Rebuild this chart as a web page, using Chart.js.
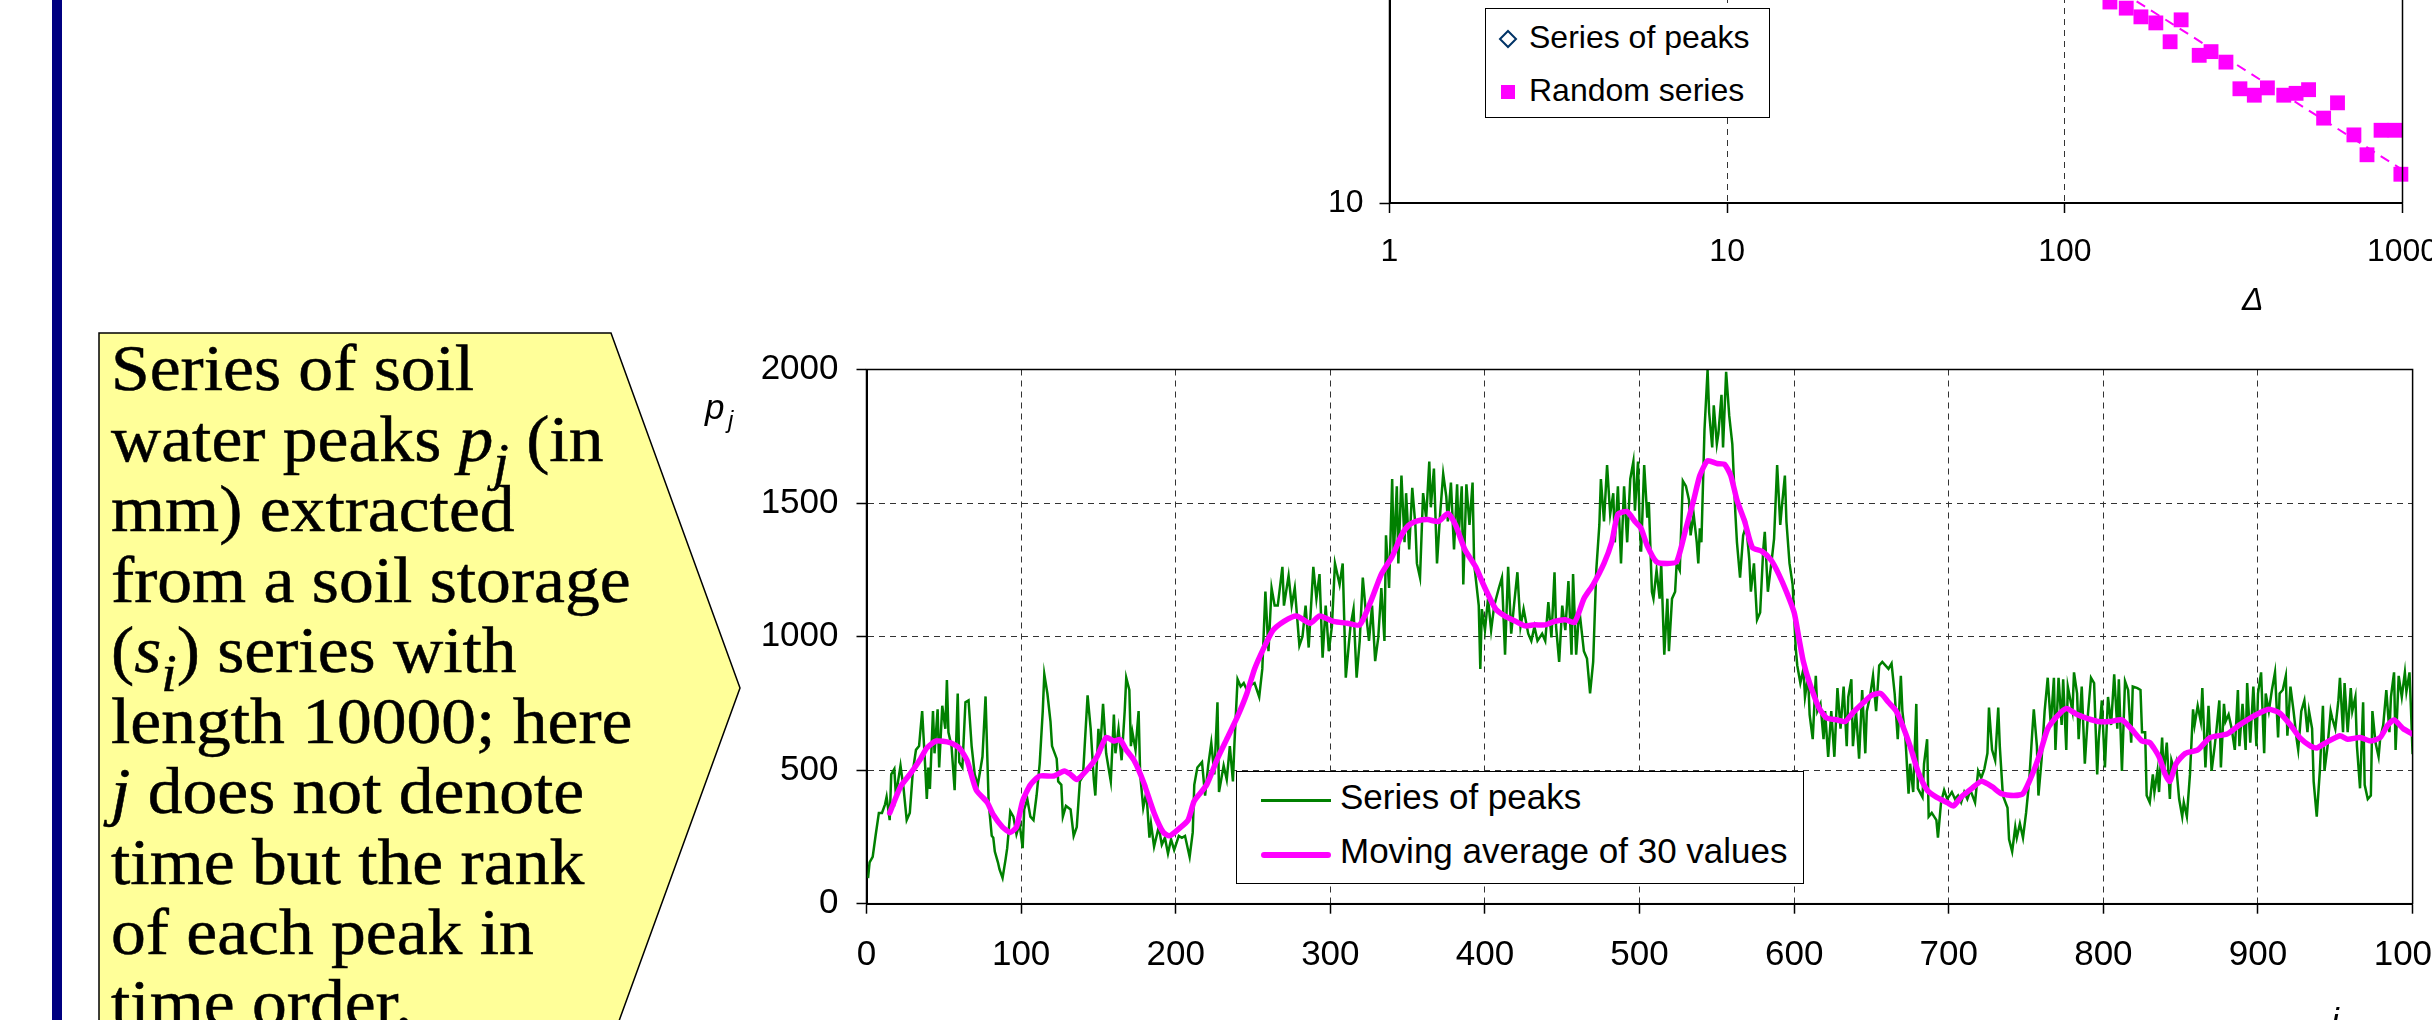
<!DOCTYPE html>
<html><head><meta charset="utf-8">
<script src="https://cdn.jsdelivr.net/npm/chart.js@4.4.1/dist/chart.umd.min.js"></script>
<style>
html,body{margin:0;padding:0;background:#fff;}
body{width:2432px;height:1020px;overflow:hidden;position:relative;font-family:'Liberation Sans',Arial,sans-serif;color:#000;}
.abs{position:absolute;}
#bar{left:52px;top:0;width:10px;height:1020px;background:#000080;}
#ctext{left:111px;top:333px;font-family:'Liberation Serif','Times New Roman',serif;font-size:65px;line-height:70.5px;white-space:nowrap;transform:scaleX(1.07);transform-origin:0 0;-webkit-text-stroke:0.5px #000;}
#ctext sub{font-size:0.8em;line-height:0;vertical-align:-0.36em;}
.lg{background:#fff;border:1.5px solid #000;box-sizing:border-box;}
.t35{font-size:35px;line-height:35px;white-space:nowrap;}
.t32{font-size:32px;line-height:32px;white-space:nowrap;}
.it{font-style:italic;}
</style></head>
<body>
<div id="bar" class="abs"></div>
<svg class="abs" style="left:0;top:0" width="2432" height="1020">
  <polygon points="99,333 611,333 740,688 611,1043 99,1043" fill="#FFFF99" stroke="#000" stroke-width="1.5"/>
</svg>
<div id="ctext" class="abs">Series of soil<br>water peaks <i>p<sub>j</sub></i> (in<br>mm) extracted<br>from a soil storage<br>(<i>s<sub>i</sub></i>) series with<br>length 10000; here<br><i>j</i> does not denote<br>time but the rank<br>of each peak in<br>time order.</div>

<div class="abs" style="left:1100px;top:-620px;width:1332px;height:960px;"><canvas id="topChart"></canvas></div>
<div class="abs" style="left:600px;top:340px;width:1832px;height:680px;"><canvas id="mainChart"></canvas></div>

<!-- top chart legend & title -->
<div class="abs lg" style="left:1485px;top:8px;width:285px;height:110px;"></div>
<svg class="abs" style="left:1498px;top:29px" width="20" height="20"><polygon points="10,2 18,10 10,18 2,10" fill="#fff" stroke="#003366" stroke-width="2"/></svg>
<div class="abs t32" style="left:1529px;top:21px;">Series of peaks</div>
<div class="abs" style="left:1501px;top:85px;width:14px;height:14px;background:#FF00FF;"></div>
<div class="abs t32" style="left:1529px;top:74px;">Random series</div>
<div class="abs t32 it" style="left:2242px;top:283px;">Δ</div>

<!-- main chart legend & titles -->
<div class="abs lg" style="left:1236px;top:771px;width:568px;height:113px;"></div>
<div class="abs" style="left:1261px;top:799px;width:70px;height:2.5px;background:#008000;"></div>
<div class="abs t35" style="left:1340px;top:779px;">Series of peaks</div>
<div class="abs" style="left:1261px;top:852px;width:70px;height:6px;background:#FF00FF;border-radius:3px;"></div>
<div class="abs t35" style="left:1340px;top:833px;">Moving average of 30 values</div>
<div class="abs t35 it" style="left:705px;top:389px;">p</div>
<div class="abs it" style="left:728px;top:408px;font-size:24px;line-height:24px;">j</div>
<div class="abs t35 it" style="left:2331px;top:1003px;">j</div>

<script>
// ---------- main chart data ----------
const mainXTicks = [0,100,200,300,400,500,600,700,800,900,1000];
const mainYTicks = [0,500,1000,1500,2000];
// Series of peaks p_j (j, p_j in mm)
const peaks = [
[1,96],[2,155],[4,175],[6,260],[8,340],[10,340],[12,372],[13,400],[15,313],[16,484],[18,504],[19,405],[22,517],[24,431],[26,313],[28,340],[30,497],[32,576],[34,590],[36,721],[38,510],[39,392],[40,510],[41,430],[43,721],[44,563],[46,728],[47,510],[49,741],[51,655],[52,837],[53,642],[55,590],[57,425],[59,787],[60,530],[62,510],[64,754],[66,761],[68,590],[70,484],[72,445],[75,550],[77,776],[79,380],[81,254],[82,247],[83,195],[85,155],[86,129],[88,96],[90,168],[91,208],[92,274],[93,346],[95,326],[97,260],[99,300],[101,208],[102,353],[104,392],[106,326],[108,313],[110,405],[112,523],[114,721],[115,859],[117,787],[119,682],[120,590],[123,543],[124,458],[126,445],[127,326],[129,366],[132,353],[134,254],[136,287],[138,458],[140,478],[143,780],[145,655],[147,465],[148,405],[150,655],[151,563],[153,748],[155,563],[158,458],[160,708],[161,563],[163,655],[165,537],[167,721],[168,846],
[170,800],[171,590],[172,642],[174,576],[176,721],[177,484],[179,359],[181,418],[183,247],[184,300],[186,214],[189,287],[191,221],[193,247],[195,188],[197,241],[199,201],[202,254],[204,247],[206,254],[209,175],[211,267],[212,445],[214,510],[217,530],[219,405],[221,517],[223,602],[225,484],[227,754],[228,418],[231,517],[233,465],[235,590],[237,458],[238,602],[240,840],[242,813],[244,826],[246,800],[249,820],[251,826],[254,774],[256,879],[258,1169],[260,945],[262,1182],[264,1116],[266,1116],[269,1261],[270,1116],[273,1228],[275,1116],[277,1182],[280,966],[282,1000],[284,1116],[286,959],[289,1261],[291,1142],[293,1234],[295,921],[297,1116],[299,945],[301,1037],[303,1274],[306,1195],[308,1274],[310,846],[313,1037],[315,1103],[317,846],[319,984],[321,1221],[323,1090],[325,984],[327,1116],[329,908],
[331,997],[333,1182],[335,984],[336,1379],[338,1182],[340,1590],[341,1300],[343,1563],[344,1274],[346,1603],[348,1353],[349,1537],[351,1326],[353,1557],[355,1418],[356,1274],[358,1221],[360,1537],[362,1445],[364,1655],[365,1484],[367,1629],[369,1274],[371,1458],[373,1609],[375,1524],[376,1431],[378,1577],[380,1326],[382,1570],[383,1379],[385,1563],[386,1195],[388,1570],[390,1418],[392,1577],[393,1274],[396,1116],[397,879],[398,1103],[400,1024],[402,1142],[404,1024],[406,1116],[409,1182],[411,1221],[413,932],[415,1261],[417,1011],[419,1129],[421,1241],[423,1037],[425,1103],[428,1011],[430,984],[432,1037],[434,984],[437,1011],[439,984],[441,1129],[443,997],[445,1241],[446,1037],[448,905],[450,1116],[452,1024],[454,1208],[456,932],[457,1234],[459,932],[461,1103],[464,945],[466,918],[468,787],[470,905],[472,1248],[474,1418],[475,1590],[477,1431],[479,1642],[481,1458],[483,1537],[484,1353],[486,1563],[488,1274],[490,1563],[492,1353],[494,1590],
[496,1655],[497,1471],[499,1655],[500,1431],[501,1318],[503,1642],[505,1445],[506,1504],[508,1168],[509,1142],[511,1248],[513,1142],[514,1274],[516,932],[518,1142],[519,945],[521,1142],[523,1168],[524,1274],[526,1248],[528,1583],[530,1563],[532,1511],[533,1379],[535,1458],[537,1353],[538,1274],[539,1405],[540,1353],[542,1774],[544,1998],[545,1840],[547,1708],[548,1866],[550,1721],[551,1760],[553,1905],[554,1708],[556,1991],[558,1827],[560,1721],[562,1458],[563,1353],[565,1221],[567,1379],[569,1418],[571,1287],[572,1168],[574,1274],[576,1063],[578,1090],[580,1326],[581,1392],[583,1168],[586,1313],[587,1366],[589,1642],[591,1418],[592,1484],[594,1603],[595,1431],[597,1274],[599,1195],[601,958],[602,892],[604,826],[606,879],[607,774],[609,853],[610,708],[612,616],[614,853],[615,721],[617,748],[619,616],[620,721],[622,550],[624,721],[626,550],[628,807],[630,655],[632,813],[634,590],[635,774],[637,840],[638,590],[640,721],[642,543],[644,800],[646,563],[647,721],[649,774],[651,853],[653,721],[655,892],[657,905],[659,892],[661,879],[663,899],[665,787],
[667,616],[669,853],[670,721],[672,616],[674,412],[675,524],[677,418],[679,748],[680,432],[683,399],[684,524],[686,616],[687,326],[689,340],[692,313],[693,247],[695,379],[697,425],[699,392],[702,418],[704,392],[706,405],[708,379],[710,418],[712,392],[714,425],[717,379],[719,497],[721,471],[723,504],[725,563],[726,734],[728,576],[730,537],[732,734],[733,590],[735,405],[738,359],[739,241],[741,195],[743,287],[744,247],[746,300],[748,247],[750,340],[752,458],[754,642],[755,728],[757,590],[758,405],[760,537],[762,721],[764,846],[766,669],[768,846],[769,576],[771,846],[773,669],[774,840],[776,576],[777,813],[780,721],[781,866],[783,787],[784,616],[786,813],[788,524],[790,708],[792,846],[794,826],[796,484],[797,616],[799,761],[801,510],[803,774],[805,669],[807,859],[809,655],[810,840],[812,497],[814,833],[816,800],[818,603],[819,813],[822,807],[824,800],[825,642],
[827,642],[828,405],[830,379],[832,484],[833,418],[835,497],[836,418],[838,622],[839,484],[841,603],[843,392],[844,537],[846,497],[847,524],[849,392],[851,326],[852,379],[854,326],[856,484],[858,728],[859,669],[861,741],[863,682],[864,807],[866,510],[868,741],[870,497],[872,590],[873,642],[875,761],[876,510],[878,748],[879,682],[881,708],[883,655],[885,576],[887,800],[888,590],[890,748],[892,576],[893,826],[895,603],[897,813],[899,590],[900,787],[902,866],[904,563],[905,787],[907,721],[909,800],[911,866],[913,622],[914,787],[916,800],[918,853],[919,629],[921,813],[923,721],[925,616],[926,576],[928,721],[930,761],[932,642],[933,721],[935,655],[936,458],[938,326],[940,497],[942,741],[943,497],[945,590],[947,721],[948,695],[950,655],[952,761],[953,846],[955,642],[956,826],[958,642],[960,807],[961,721],[963,774],[964,590],[966,432],[968,754],[969,445],[971,392],[973,405],[974,721],[976,603],[978,550],[979,616],[981,669],[983,800],[985,642],[986,774],[988,866],[989,576],[991,853],[993,774],[995,866],[996,794],[998,866],[999,721],[1000,560]
];
// Moving average of 30 values (j, mm)
const movingAvg = [
[15,340],[22,438],[28,484],[35,543],[39,583],[45,609],[54,603],[60,583],[65,537],[71,425],[78,380],[82,333],[88,287],[93,267],[97,287],[101,385],[106,445],[112,478],[121,478],[128,497],[132,484],[136,465],[142,497],[149,550],[155,622],[160,609],[164,615],[168,576],[173,537],[179,458],[186,340],[192,267],[196,254],[202,280],[208,313],[212,385],[220,445],[227,543],[233,616],[240,701],[246,787],[251,879],[257,958],[263,1024],[270,1057],[278,1077],[287,1050],[293,1077],[302,1057],[311,1050],[319,1044],[326,1129],[333,1234],[340,1300],[346,1379],[351,1418],[357,1434],[363,1438],[370,1431],[376,1461],[381,1418],[387,1326],[394,1261],[400,1182],[407,1103],[413,1077],[420,1057],[426,1040],[432,1044],[439,1044],[445,1057],[452,1063],[458,1053],[464,1142],[470,1195],[477,1274],[482,1353],[486,1458],[492,1468],[497,1431],[501,1405],[505,1340],[511,1280],[518,1274],[524,1280],[530,1405],[535,1511],[539,1603],[544,1658],[550,1648],[555,1645],[559,1603],[563,1511],[568,1431],[573,1333],[579,1320],[585,1287],[590,1234],[595,1168],[600,1090],[603,997],[606,905],[610,826],[616,734],[621,695],[628,688],[633,682],[638,715],[645,754],[650,780],[656,787],[661,754],[666,721],[670,669],[675,590],[680,497],[686,425],[692,399],[699,379],[703,366],[708,399],[715,432],[721,458],[728,438],[734,412],[742,405],[748,412],[754,484],[759,563],[764,655],[770,701],[776,731],[783,708],[789,695],[797,682],[804,682],[812,688],[818,655],[825,609],[830,603],[836,550],[840,484],[843,458],[847,524],[853,563],[861,576],[869,622],[880,635],[888,669],[895,695],[901,714],[907,728],[914,714],[921,669],[927,622],[934,590],[938,583],[944,603],[953,629],[958,616],[966,622],[973,609],[979,622],[984,669],[988,688],[994,655],[1000,635]
];

// ---------- top chart data ----------
const topXTicks = [1,10,100,1000];
const topYTicks = [10,100,1000];
const randomDelta = [136,152,168,186,205,221,250,271,300,330,364,398,445,484,527,584,642,718,785,864,950,989];
const randomValue = [31.8,30.7,29.2,28.2,25.3,28.7,23.4,23.9,22.5,19.3,18.6,19.4,18.6,18.8,19.2,16.3,17.8,14.8,13.2,15.2,15.2,11.8];
const trendDelta = [100,1000];
const trendValue = [41.5,12.1];

// ---------- helpers ----------
const FONT = "'Liberation Sans', Arial, sans-serif";
Chart.defaults.font.family = FONT;
Chart.defaults.color = '#000';
const frame = {
  id:'frame',
  afterDatasetsDraw(chart){
    const {ctx, chartArea:a} = chart;
    ctx.save(); ctx.strokeStyle='#000'; ctx.lineWidth=1.5;
    ctx.strokeRect(a.left,a.top,a.right-a.left,a.bottom-a.top);
    ctx.restore();
  }
};
const toXY = arr => arr.map(p => ({x:p[0], y:p[1]}));

// ---------- main chart ----------
new Chart(document.getElementById('mainChart'), {
  type:'line',
  data:{datasets:[
    {label:'Series of peaks', data:toXY(peaks), borderColor:'#008000', borderWidth:2.5, pointRadius:0, tension:0, order:1},
    {label:'Moving average of 30 values', data:toXY(movingAvg), borderColor:'#FF00FF', borderWidth:5.5, pointRadius:0, tension:0.2, order:0, borderCapStyle:'round', borderJoinStyle:'round'}
  ]},
  options:{
    responsive:true, maintainAspectRatio:false, animation:false, devicePixelRatio:1,
    layout:{padding:{left:0, top:29.5, right:19.4, bottom:0}},
    plugins:{legend:{display:false}, tooltip:{enabled:false}},
    scales:{
      x:{type:'linear', min:0, max:1000,
        afterBuildTicks:s=>{s.ticks = mainXTicks.map(v=>({value:v}));},
        afterFit:s=>{s.height=116.3; s.paddingLeft=0; s.paddingRight=0;},
        ticks:{font:{size:35}, padding:21, maxRotation:0, autoSkip:false, callback:v=>String(v)},
        grid:{color:'#333', lineWidth:1, tickLength:10, tickColor:'#000', tickWidth:1.5},
        border:{color:'#000', width:2, dash:[6,5]}},
      y:{type:'linear', min:0, max:2000,
        afterBuildTicks:s=>{s.ticks = mainYTicks.map(v=>({value:v}));},
        afterFit:s=>{s.width=266.5; s.paddingTop=0; s.paddingBottom=0;},
        ticks:{font:{size:35}, padding:18, callback:v=>String(v)},
        grid:{color:'#333', lineWidth:1, tickLength:10, tickColor:'#000', tickWidth:1.5},
        border:{color:'#000', width:2, dash:[6,5]}}
    }
  },
  plugins:[frame]
});

// ---------- top chart ----------
new Chart(document.getElementById('topChart'), {
  type:'line',
  data:{datasets:[
    {label:'Random series', data:randomDelta.map((d,i)=>({x:d,y:randomValue[i]})), showLine:false, pointStyle:'rect', pointRadius:10.5, pointBackgroundColor:'#FF00FF', pointBorderWidth:0, borderColor:'#FF00FF', clip:false, order:0},
    {label:'trend', data:trendDelta.map((d,i)=>({x:d,y:trendValue[i]})), borderColor:'#FF00FF', borderWidth:2, borderDash:[10,7], pointRadius:0, order:1}
  ]},
  options:{
    responsive:true, maintainAspectRatio:false, animation:false, devicePixelRatio:1,
    layout:{padding:{left:0, top:23, right:29.5, bottom:0}},
    plugins:{legend:{display:false}, tooltip:{enabled:false}},
    scales:{
      x:{type:'logarithmic', min:1, max:1000,
        afterBuildTicks:s=>{s.ticks = topXTicks.map(v=>({value:v}));},
        afterFit:s=>{s.height=137; s.paddingLeft=0; s.paddingRight=0;},
        ticks:{font:{size:32}, padding:20, maxRotation:0, autoSkip:false, callback:v=>String(v)},
        grid:{color:'#333', lineWidth:1, tickLength:10, tickColor:'#000', tickWidth:1.5},
        border:{color:'#000', width:2, dash:[6,5]}},
      y:{type:'logarithmic', min:10, max:1000,
        afterBuildTicks:s=>{s.ticks = topYTicks.map(v=>({value:v}));},
        afterFit:s=>{s.width=289.5; s.paddingTop=0; s.paddingBottom=0;},
        ticks:{font:{size:32}, padding:16, callback:v=>String(v)},
        grid:{color:'#333', lineWidth:1, tickLength:10, tickColor:'#000', tickWidth:1.5},
        border:{color:'#000', width:2, dash:[6,5]}}
    }
  },
  plugins:[frame]
});
</script>
</body></html>
